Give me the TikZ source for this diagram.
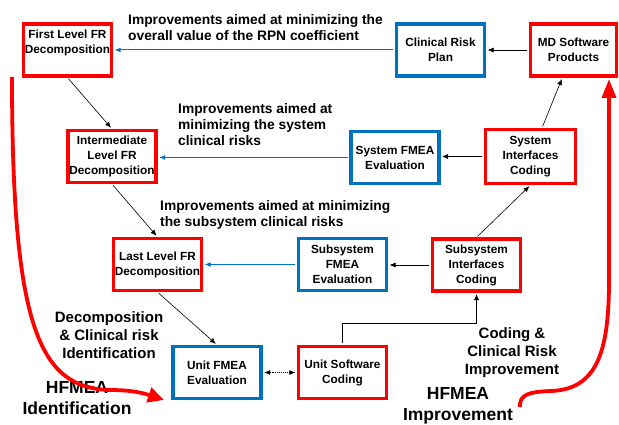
\documentclass[tikz,border=0pt]{standalone}
\usepackage{fontspec}
\setmainfont{Liberation Sans}
\usetikzlibrary{arrows.meta}
\definecolor{boxblue}{RGB}{0,112,192}

\begin{document}
\begin{tikzpicture}[x=1pt, y=-1pt,
  boxtext/.style={inner sep=0pt, align=center, font=\fontsize{11.8}{15}\selectfont\bfseries},
  box/.style={boxtext, draw, fill=white, line width=3.2pt, inner sep=1pt, minimum width=88pt, minimum height=52pt},
  redbox/.style={box, draw=red},
  bluebox/.style={box, draw=boxblue},
  note/.style={inner sep=0pt, align=left, anchor=west, font=\fontsize{13.8}{16}\selectfont\bfseries},
  phase/.style={inner sep=0pt, align=center, font=\fontsize{15}{18}\selectfont\bfseries},
  hfmea/.style={inner sep=0pt, align=center, font=\fontsize{17.5}{21}\selectfont\bfseries},
  link/.style={-{Latex[length=6pt,width=5pt]}, line width=0.6pt, shorten >=1.5pt, shorten <=1.5pt},
  duallink/.style={{Latex[length=6pt,width=5pt]}-{Latex[length=6pt,width=5pt]}, line width=0.9pt, densely dotted, shorten >=1.5pt, shorten <=1.5pt},
  bluelink/.style={link, line width=1pt, draw=boxblue, fill=boxblue},
  redcurve/.style={line width=3.8pt, draw=red}]
\useasboundingbox (0,0) rectangle (619,425);

\node[redbox] (first) at (67.5,50) {};
\node[boxtext, anchor=north] (firstlbl) at (67.5,30) {First Level FR\\Decomposition};
\node[bluebox] (crp) at (440.5,50) {Clinical Risk\\Plan};
\node[redbox, minimum width=86pt] (md) at (573.5,50) {MD Software\\Products};
\node[redbox] (inter) at (112,156.5) {Intermediate\\Level FR\\Decomposition};
\node[bluebox] (sysfmea) at (395,157.5) {System FMEA\\Evaluation};
\node[redbox, minimum width=90pt, minimum height=54pt] (sysic) at (530.5,156.5) {System\\Interfaces\\Coding};
\node[redbox] (last) at (157.5,264.5) {Last Level FR\\Decomposition};
\node[bluebox] (subfmea) at (342.5,264.5) {Subsystem\\FMEA\\Evaluation};
\node[redbox] (subic) at (476.5,265) {Subsystem\\Interfaces\\Coding};
\node[bluebox] (unitfmea) at (217,372.5) {Unit FMEA\\Evaluation};
\node[redbox] (usc) at (342.5,372.5) {Unit Software\\Coding};

\node[note] (lbltop) at (128,27.5) {Improvements aimed at minimizing the\\overall value of the RPN coefficient};
\node[note] (lblsys) at (178,125) {Improvements aimed at\\minimizing the system\\clinical risks};
\node[note] (lblsub) at (160,215) {Improvements aimed at minimizing\\the subsystem clinical risks};
\node[phase] (lbldec) at (109,335) {Decomposition\\\& Clinical risk\\Identification};
\node[phase] (lblcod) at (512,353) {Coding \&\\Clinical Risk\\Improvement};
\node[hfmea] (lblident) at (77,398) {HFMEA\\Identification};
\node[hfmea] (lblimpr) at (458,406) {HFMEA\\Improvement};

\draw[link] (md.west) -- (crp.east);
\draw[bluelink] (crp.west) -- (first.east);
\draw[link] (first.south) -- (inter.north);
\draw[link] (inter.south) -- (last.north);
\draw[link] (last.south) -- (unitfmea.north);
\draw[duallink] (unitfmea.east) -- (usc.west);
\draw[link] (usc.north) -- ++(0,-22) -| (subic.south);
\draw[link] (subic.west) -- (subic.west -| subfmea.east);
\draw[link] (subic.north) -- (sysic.south);
\draw[link] (sysic) -- (md);
\draw[link] (sysic.west) -- (sysic.west -| sysfmea.east);
\draw[bluelink] (sysfmea.west) -- (sysfmea.west -| inter.east);
\draw[bluelink] (subfmea.west) -- (subfmea.west -| last.east);

\coordinate (identstart) at (12,77);
\coordinate (identend) at (164,400);
\coordinate (imprstart) at (520,407);
\coordinate (imprend) at (609,79);
\draw[redcurve, -{Triangle[length=16pt,width=15pt]}] (identstart) .. controls (12,330) and (40,388) .. (110,390) .. controls (128,390) and (140,392) .. (identend);
\draw[redcurve, -{Triangle[length=19pt,width=14pt]}] (imprstart) .. controls (519,394) and (530,392) .. (550,391) .. controls (598,390) and (609,350) .. (609,280) -- (imprend);
\end{tikzpicture}
\end{document}
